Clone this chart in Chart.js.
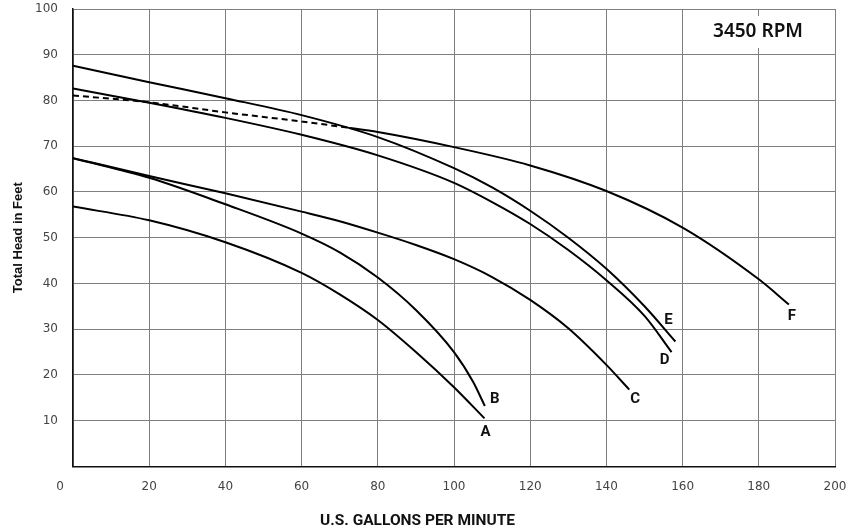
<!DOCTYPE html>
<html>
<head>
<meta charset="utf-8">
<script src="https://cdn.jsdelivr.net/npm/chart.js@4.4.1/dist/chart.umd.min.js"></script>
<style>
  html, body { margin: 0; padding: 0; background: #fff; }
  #wrap { width: 846px; height: 531px; }
</style>
</head>
<body>
<div id="wrap"><canvas id="pump"></canvas></div>
<script>
// pump curves (flow in GPM, head in feet)
const flowA = [0, 20, 40, 60, 70, 80, 90, 100, 108];
const headA = [56.8, 53.8, 49.0, 42.3, 37.6, 32.0, 25.0, 17.3, 10.5];

const flowB = [0, 20, 40, 60, 70, 80, 90, 100, 105, 108.1];
const headB = [67.4, 63.1, 57.3, 50.9, 46.8, 41.3, 34.2, 25.0, 18.5, 13.2];

const flowC = [0, 20, 40, 60, 70, 80, 90, 100, 110, 120, 130, 140, 146];
const headC = [67.4, 63.5, 59.7, 55.7, 53.6, 51.1, 48.4, 45.3, 41.4, 36.4, 30.2, 22.2, 16.8];

const flowD = [0, 20, 40, 60, 80, 100, 110, 120, 130, 140, 150, 157.1];
const headD = [82.6, 79.5, 76.2, 72.5, 68.0, 62.0, 57.8, 53.0, 47.3, 40.7, 32.9, 25.0];

const flowE = [0, 20, 40, 60, 80, 100, 110, 120, 130, 140, 150, 158.1];
const headE = [87.6, 84.0, 80.5, 76.8, 72.0, 65.2, 61.0, 55.9, 50.0, 43.2, 35.0, 27.3];

// F is dashed up to where it meets E, solid after
const flowF = [0, 20, 40, 60, 72.6, 80, 100, 120, 140, 160, 180, 187.9];
const headF = [81.1, 79.6, 77.4, 75.4, 74.0, 73.1, 69.8, 65.8, 60.2, 52.2, 40.9, 35.4];
const fDashedTo = 72.6;

const curveNames = ["A", "B", "C", "D", "E", "F"];
// where each letter sits next to its curve end, in px
const labelOffsets = [[1, 14], [10, -7], [6, 10], [-7, 8], [-7, -21], [3, 12]];

const xTicks = [0, 20, 40, 60, 80, 100, 120, 140, 160, 180, 200];
const yTicks = [10, 20, 30, 40, 50, 60, 70, 80, 90, 100];
const speedText = "3450 RPM";

function points(xs, ys) {
    return xs.map((x, i) => ({x: x, y: ys[i]}));
}

function curve(label, xs, ys) {
    return {
        label: label,
        data: points(xs, ys),
        borderColor: '#000',
        borderWidth: 2,
        pointRadius: 0,
        fill: false,
        cubicInterpolationMode: 'monotone',
    };
}

const datasets = [
    curve("A", flowA, headA),
    curve("B", flowB, headB),
    curve("C", flowC, headC),
    curve("D", flowD, headD),
    curve("E", flowE, headE),
    curve("F", flowF, headF),
];
datasets[5].segment = {
    borderDash: (ctx) => ctx.p1.parsed.x <= fDashedTo ? [6, 4] : undefined,
};

const tickFont = {family: "DejaVu Sans", size: 12};

const extras = {
    id: 'extras',
    afterDraw(chart) {
        const ctx = chart.ctx;
        const xs = chart.scales.x;
        const ys = chart.scales.y;
        const area = chart.chartArea;
        ctx.save();

        // letters at the ends of the curves
        ctx.fillStyle = '#111';
        ctx.font = "bold 15px Roboto";
        ctx.textAlign = 'center';
        ctx.textBaseline = 'middle';
        curveNames.forEach((name, i) => {
            const pts = datasets[i].data;
            const last = pts[pts.length - 1];
            ctx.fillText(name,
                xs.getPixelForValue(last.x) + labelOffsets[i][0],
                ys.getPixelForValue(last.y) + labelOffsets[i][1]);
        });

        // the "0" corner label sits left of the axis
        ctx.fillStyle = '#444';
        ctx.font = "12px 'DejaVu Sans'";
        ctx.fillText("0", xs.getPixelForValue(0) - 13, area.bottom + 20);

        // speed box, top right
        const cx = area.right - 77;
        const cy = area.top + 23;
        ctx.fillStyle = '#fff';
        ctx.fillRect(cx - 50, cy - 16, 100, 32);
        ctx.fillStyle = '#111';
        ctx.font = "600 19px 'Noto Sans'";
        ctx.fillText(speedText, cx, cy);
        ctx.restore();
    }
};

new Chart(document.getElementById("pump"), {
    type: "line",
    data: {datasets: datasets},
    options: {
        responsive: true,
        maintainAspectRatio: false,
        animation: false,
        layout: {padding: {top: 9, right: 11, left: 0, bottom: 0}},
        plugins: {
            legend: {display: false},
            tooltip: {enabled: false},
            title: {
                display: true,
                position: 'bottom',
                text: "U.S. GALLONS PER MINUTE",
                color: '#111',
                font: {family: "Roboto", size: 15.5, weight: 'bold'},
                padding: {top: 5, bottom: 1},
            },
        },
        scales: {
            x: {
                type: 'linear',
                min: 0,
                max: 200,
                afterFit(scale) {
                    scale.height = 40;
                    scale.paddingLeft = 0;
                    scale.paddingRight = 0;
                },
                afterBuildTicks(scale) { scale.ticks = xTicks.map(v => ({value: v})); },
                ticks: {
                    color: '#444',
                    font: tickFont,
                    padding: 13,
                    callback: (v) => v === 0 ? '' : v,
                },
                grid: {color: '#808080', lineWidth: 1, drawTicks: false},
                border: {display: true, color: '#111', width: 1.5},
            },
            y: {
                type: 'linear',
                min: 0,
                max: 100,
                afterFit(scale) {
                    scale.width = 73;
                    scale.paddingTop = 0;
                    scale.paddingBottom = 0;
                },
                afterBuildTicks(scale) { scale.ticks = [0].concat(yTicks).map(v => ({value: v})); },
                ticks: {
                    color: '#444',
                    font: tickFont,
                    padding: 15,
                    callback: (v) => v === 0 ? '' : v,
                },
                grid: {color: '#808080', lineWidth: 1, drawTicks: false},
                border: {display: true, color: '#111', width: 1.5},
                title: {
                    display: true,
                    text: "Total Head in Feet",
                    color: '#111',
                    font: {family: "Liberation Sans", size: 13, weight: 'bold'},
                    padding: {top: 11, bottom: 0},
                },
            },
        },
    },
    plugins: [extras],
});
</script>
</body>
</html>
